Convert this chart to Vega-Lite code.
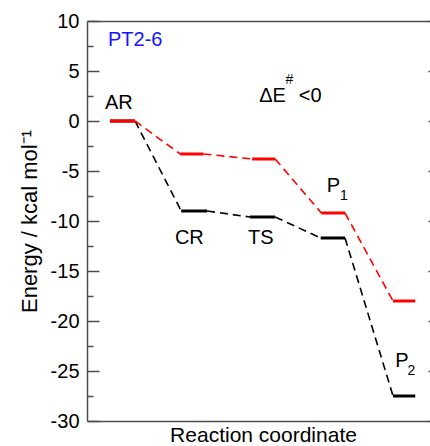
{
  "$schema": "https://vega.github.io/schema/vega-lite/v6.json",
  "autosize": "none",
  "width": 343,
  "height": 400,
  "padding": {"left": 87, "top": 21, "right": 0, "bottom": 25},
  "background": "white",
  "config": {
    "view": {"stroke": null},
    "font": "Liberation Sans",
    "axis": {"domainColor": "#4d4d4d", "domainWidth": 1.5, "tickColor": "#4d4d4d", "tickWidth": 1.5, "labelFont": "Liberation Sans", "titleFont": "Liberation Sans", "labelColor": "black", "titleColor": "black", "grid": false, "titleFontWeight": "normal"}
  },
  "datasets": {
    "segments": [
      {"series": "black", "kind": "level", "x1": 0.65, "x2": 1.36, "e1": 0, "e2": 0},
      {"series": "black", "kind": "conn", "x1": 1.36, "x2": 2.67, "e1": 0, "e2": -9.0},
      {"series": "black", "kind": "level", "x1": 2.67, "x2": 3.4, "e1": -9.0, "e2": -9.0},
      {"series": "black", "kind": "conn", "x1": 3.4, "x2": 4.62, "e1": -9.0, "e2": -9.6},
      {"series": "black", "kind": "level", "x1": 4.62, "x2": 5.33, "e1": -9.6, "e2": -9.6},
      {"series": "black", "kind": "conn", "x1": 5.33, "x2": 6.62, "e1": -9.6, "e2": -11.7},
      {"series": "black", "kind": "level", "x1": 6.62, "x2": 7.31, "e1": -11.7, "e2": -11.7},
      {"series": "black", "kind": "conn", "x1": 7.31, "x2": 8.67, "e1": -11.7, "e2": -27.5},
      {"series": "black", "kind": "level", "x1": 8.67, "x2": 9.3, "e1": -27.5, "e2": -27.5},
      {"series": "red", "kind": "level", "x1": 0.65, "x2": 1.36, "e1": 0, "e2": 0},
      {"series": "red", "kind": "conn", "x1": 1.36, "x2": 2.64, "e1": 0, "e2": -3.3},
      {"series": "red", "kind": "level", "x1": 2.64, "x2": 3.3, "e1": -3.3, "e2": -3.3},
      {"series": "red", "kind": "conn", "x1": 3.3, "x2": 4.68, "e1": -3.3, "e2": -3.8},
      {"series": "red", "kind": "level", "x1": 4.68, "x2": 5.33, "e1": -3.8, "e2": -3.8},
      {"series": "red", "kind": "conn", "x1": 5.33, "x2": 6.64, "e1": -3.8, "e2": -9.2},
      {"series": "red", "kind": "level", "x1": 6.64, "x2": 7.31, "e1": -9.2, "e2": -9.2},
      {"series": "red", "kind": "conn", "x1": 7.31, "x2": 8.67, "e1": -9.2, "e2": -18.0},
      {"series": "red", "kind": "level", "x1": 8.67, "x2": 9.3, "e1": -18.0, "e2": -18.0}
    ],
    "labels": [
      {"label": "AR", "x": 0.51, "e": 1.2, "group": "main"},
      {"label": "CR", "x": 2.49, "e": -12.33, "group": "main"},
      {"label": "TS", "x": 4.56, "e": -12.33, "group": "main"},
      {"label": "P", "x": 6.79, "e": -7.07, "group": "main"},
      {"label": "P", "x": 8.73, "e": -24.57, "group": "main"},
      {"label": "ΔE", "x": 4.88, "e": 1.93, "group": "main"},
      {"label": "<0", "x": 6.0, "e": 1.93, "group": "main"},
      {"label": "1", "x": 7.17, "e": -7.9, "group": "sub"},
      {"label": "2", "x": 9.08, "e": -25.4, "group": "sub"},
      {"label": "#", "x": 5.62, "e": 3.7, "group": "sub"},
      {"label": "PT2-6", "x": 0.595, "e": 7.5, "group": "title"}
    ]
  },
  "layer": [
    {
      "data": {"name": "segments"},
      "mark": {"type": "rule", "strokeCap": "butt"},
      "encoding": {
        "x": {"field": "x1", "type": "quantitative", "scale": {"domain": [0, 9.717], "nice": false, "zero": false},
          "axis": {"orient": "bottom", "title": "Reaction coordinate", "labels": false, "ticks": false, "titleFontSize": 21, "titleX": 176, "titleY": 20.7, "titleBaseline": "alphabetic", "titleAnchor": null, "titleAlign": "center"}},
        "x2": {"field": "x2"},
        "y": {"field": "e1", "type": "quantitative", "scale": {"domain": [-30, 10], "nice": false, "zero": false},
          "axis": {"orient": "left", "title": "Energy / kcal mol⁻¹", "titleFontSize": 22, "titleAngle": -90, "titleX": -50.3, "titleY": 200, "titleBaseline": "alphabetic", "titleAlign": "center", "titleAnchor": null,
            "values": [-30, -27.5, -25, -22.5, -20, -17.5, -15, -12.5, -10, -7.5, -5, -2.5, 0, 2.5, 5, 7.5, 10],
            "labelExpr": "datum.value % 5 === 0 ? '' + datum.value : ''",
            "labelFontSize": 20, "labelPadding": 20, "labelOverlap": false, "labelBound": false, "labelFlush": false,
            "tickSize": {"condition": {"test": "datum.value % 5 === 0", "value": -12}, "value": -6}}},
        "y2": {"field": "e2"},
        "color": {"field": "series", "type": "nominal", "scale": {"domain": ["black", "red"], "range": ["#000000", "#ff0000"]}, "legend": null},
        "strokeDash": {"field": "kind", "type": "nominal", "scale": {"domain": ["level", "conn"], "range": [[1, 0], [8, 5]]}, "legend": null},
        "strokeWidth": {"field": "kind", "type": "nominal", "scale": {"domain": ["level", "conn"], "range": [3, 1.6]}, "legend": null}
      }
    },
    {
      "data": {"name": "labels"},
      "transform": [{"filter": "datum.group === 'main'"}],
      "mark": {"type": "text", "align": "left", "baseline": "alphabetic", "fontSize": 20, "color": "black", "font": "Liberation Sans"},
      "encoding": {
        "x": {"field": "x", "type": "quantitative", "axis": {"orient": "top", "title": null, "labels": false, "ticks": false, "domain": true}},
        "y": {"field": "e", "type": "quantitative", "axis": {"orient": "right", "title": null, "labels": false, "domain": false, "values": [-30, -25, -20, -15, -10, -5, 0, 5, 10], "tickSize": -2}},
        "text": {"field": "label"}
      }
    },
    {
      "data": {"name": "labels"},
      "transform": [{"filter": "datum.group === 'sub'"}],
      "mark": {"type": "text", "align": "left", "baseline": "alphabetic", "fontSize": 14, "color": "black", "font": "Liberation Sans"},
      "encoding": {
        "x": {"field": "x", "type": "quantitative", "axis": null},
        "y": {"field": "e", "type": "quantitative", "axis": null},
        "text": {"field": "label"}
      }
    },
    {
      "data": {"name": "labels"},
      "transform": [{"filter": "datum.group === 'title'"}],
      "mark": {"type": "text", "align": "left", "baseline": "alphabetic", "fontSize": 20, "color": "#1414ff", "font": "Liberation Sans"},
      "encoding": {
        "x": {"field": "x", "type": "quantitative", "axis": null},
        "y": {"field": "e", "type": "quantitative", "axis": null},
        "text": {"field": "label"}
      }
    }
  ],
  "resolve": {"axis": {"x": "independent", "y": "independent"}}
}
